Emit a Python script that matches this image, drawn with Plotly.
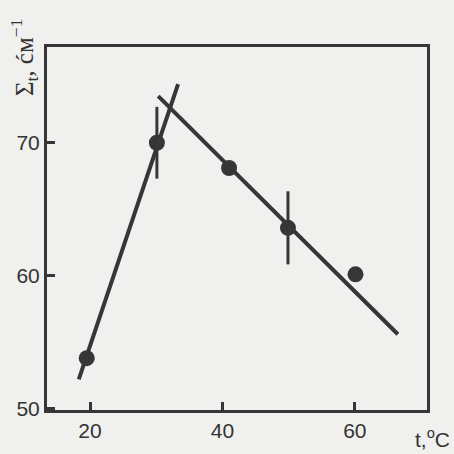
import plotly.graph_objects as go

# measured points
temp = [19.5, 30.1, 41.0, 49.9, 60.1]
sigma = [53.8, 70.0, 68.1, 63.6, 60.1]
err = [0, 2.7, 0, 2.75, 0]

# fitted lines (endpoints)
rise_t = [18.3, 33.3]
rise_s = [52.2, 74.4]
fall_t = [30.3, 66.5]
fall_s = [73.5, 55.6]

x_ticks = [20, 40, 60]
y_ticks = [50, 60, 70]

ink = "#363636"
bg = "#f0f0ee"

fig = go.Figure()
fig.add_trace(go.Scatter(x=rise_t, y=rise_s, mode="lines",
                         line=dict(color=ink, width=4), showlegend=False))
fig.add_trace(go.Scatter(x=fall_t, y=fall_s, mode="lines",
                         line=dict(color=ink, width=4), showlegend=False))
fig.add_trace(go.Scatter(x=temp, y=sigma, mode="markers",
                         marker=dict(color=ink, size=16),
                         error_y=dict(type="data", array=err, visible=True,
                                      color=ink, thickness=3, width=0),
                         showlegend=False))

fig.update_layout(
    width=454, height=454,
    margin=dict(l=47, r=27, t=47, b=44),
    paper_bgcolor=bg, plot_bgcolor=bg,
    font=dict(family="Liberation Sans, Arial, sans-serif", size=21, color="#333333"),
    xaxis=dict(range=[13.5, 70.9], tickvals=x_ticks, ticks="inside", ticklen=8,
               tickwidth=3, tickcolor=ink, showgrid=False, zeroline=False,
               showline=True, linewidth=3, linecolor=ink, mirror=True),
    yaxis=dict(range=[49.9, 77.2], tickvals=y_ticks, ticks="inside", ticklen=8,
               tickwidth=3, tickcolor=ink, showgrid=False, zeroline=False,
               showline=True, linewidth=3, linecolor=ink, mirror=True),
    annotations=[
        dict(text="Σ<sub>t</sub>, ćм<sup>−1</sup>", textangle=-90,
             xref="paper", yref="paper", x=-0.06, y=0.97, xanchor="center", yanchor="middle",
             showarrow=False, font=dict(size=25, family="Liberation Serif, serif")),
        dict(text="t,<sup>o</sup>C", xref="paper", yref="paper", x=1.015, y=-0.077,
             xanchor="center", yanchor="middle", showarrow=False, font=dict(size=21)),
    ],
)

fig.write_html("out.html",
               config={"displayModeBar": False},
               post_script="document.body.style.margin='0';"
                           "document.body.style.background='#f0f0ee';")
